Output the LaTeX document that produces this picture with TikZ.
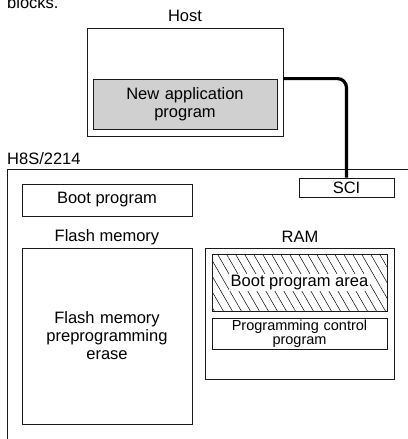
\documentclass[tikz,border=0pt]{standalone}
\usepackage{fontspec}
\setmainfont{Liberation Sans}
\usepackage{xcolor}
\usetikzlibrary{patterns.meta}
\definecolor{appgray}{HTML}{d0d0d0}
\definecolor{lineblack}{HTML}{1a1a1a}

\begin{document}
\begin{tikzpicture}[x=1pt, y=1pt,
  box/.style={draw=lineblack, line width=0.8pt, fill=white, inner sep=0pt, align=center, font=\fontsize{16.5}{18}\selectfont},
  smallbox/.style={box, font=\fontsize{14.5}{13.5}\selectfont},
  hatchbox/.style={draw=lineblack, line width=0.8pt, inner sep=0pt, pattern={Lines[angle=-60, distance=7.8pt, line width=0.5pt]}},
  title/.style={inner sep=0pt, font=\fontsize{16.5}{18}\selectfont},
  link/.style={line width=3.2pt, rounded corners=9pt}
]
\useasboundingbox (0,0) rectangle (407,-439);

% text cut off above the picture
\node[title, anchor=base west] (blocks) at (7,-8.5) {blocks.};

% Host
\node[title] (hostlabel) at (185,-16) {Host};
\node[box, minimum width=196, minimum height=108] (host) at (185,-82) {};
\node[box, fill=appgray, minimum width=184, minimum height=50, text width=180] (app) at (185,-104) {New application\\program};

% H8S/2214 chip
\node[title, anchor=west] (chiplabel) at (7,-159) {H8S/2214};
\node[box, minimum width=413, minimum height=291] (chip) at (213.5,-314.5) {};
\node[box, minimum width=95, minimum height=19] (sci) at (346.5,-187.5) {SCI};
\node[box, minimum width=170, minimum height=32] (boot) at (107,-200) {Boot program};

% Flash memory
\node[title] (flashlabel) at (107,-237) {Flash memory};
\node[box, minimum width=170, minimum height=176, text width=166] (flash) at (107,-336) {Flash memory\\preprogramming\\erase};

% RAM
\node[title] (ramlabel) at (300,-237) {RAM};
\node[box, minimum width=189, minimum height=131] (ram) at (299.5,-313.5) {};
\node[hatchbox, minimum width=175, minimum height=57] (bootarea) at (299.5,-282.5) {};
\node[title, fill=white, inner sep=1.5pt] (bootareatext) at (bootarea) {Boot program area};
\node[smallbox, minimum width=175, minimum height=31, text width=171] (ctrl) at (299.5,-333.5) {Programming control\\program};

% Serial link
\draw[link] (host.east |- app.north) -| (sci.north);

\end{tikzpicture}
\end{document}
